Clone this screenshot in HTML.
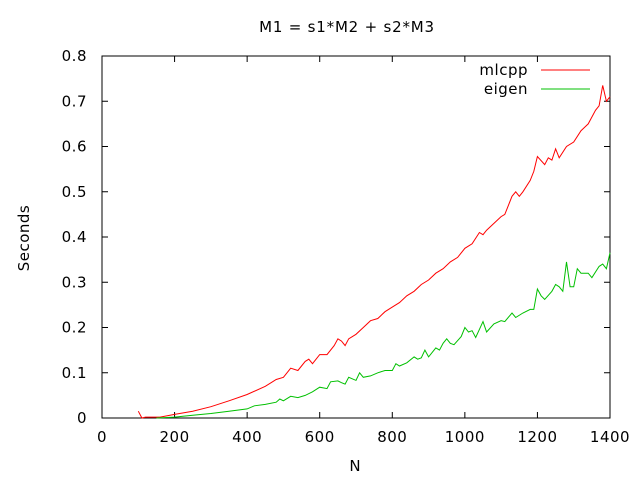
<!DOCTYPE html>
<html><head><meta charset="utf-8"><style>body{margin:0;background:#fff}svg{display:block;font-family:"DejaVu Sans","Liberation Sans",sans-serif}</style></head>
<body>
<svg id="chart" width="640" height="480" viewBox="0 0 640 480">
<text x="347" y="32" font-size="15" letter-spacing="0.8" text-anchor="middle">M1 = s1*M2 + s2*M3</text>
<text x="0" y="0" font-size="15" letter-spacing="0.5" text-anchor="middle" transform="translate(29,238) rotate(-90)">Seconds</text>
<text x="355" y="471" font-size="15" text-anchor="middle">N</text>
<g id="axes"></g>
<g id="series"></g>
<g>
<text x="528" y="75" font-size="15" letter-spacing="0.5" text-anchor="end">mlcpp</text>
<line x1="541" y1="70" x2="590" y2="70" stroke="#ff0000"/>
<text x="528" y="94" font-size="15" letter-spacing="0.5" text-anchor="end">eigen</text>
<line x1="541" y1="89" x2="590" y2="89" stroke="#00c000"/>
</g>
</svg>
<script>
const xTicks=[0,200,400,600,800,1000,1200,1400];
const yTicks=[0,0.1,0.2,0.3,0.4,0.5,0.6,0.7,0.8];
const yTickLabels=["0","0.1","0.2","0.3","0.4","0.5","0.6","0.7","0.8"];
const mlcppN=[100,110,120,160,200,250,300,350,400,450,480,500,520,540,560,570,580,600,620,640,650,660,670,680,700,720,740,760,780,800,820,840,860,880,900,920,940,960,980,1000,1020,1040,1050,1060,1080,1100,1110,1130,1140,1150,1160,1180,1190,1200,1220,1230,1240,1250,1260,1280,1300,1320,1340,1360,1370,1380,1390,1400];
const mlcppV=[0.015,0.0,0.002,0.002,0.008,0.015,0.025,0.038,0.052,0.07,0.085,0.09,0.11,0.105,0.125,0.13,0.12,0.14,0.14,0.16,0.175,0.17,0.16,0.175,0.185,0.2,0.215,0.22,0.235,0.245,0.255,0.27,0.28,0.295,0.305,0.32,0.33,0.345,0.355,0.375,0.385,0.41,0.405,0.415,0.43,0.445,0.45,0.49,0.5,0.49,0.5,0.525,0.545,0.578,0.56,0.575,0.57,0.595,0.575,0.6,0.61,0.635,0.65,0.68,0.69,0.735,0.7,0.71];
const eigenN=[150,200,250,300,350,400,420,450,480,490,500,520,540,560,580,600,620,630,650,660,670,680,700,710,720,740,760,780,800,810,820,840,860,870,880,890,900,920,930,940,950,960,970,990,1000,1010,1020,1030,1050,1060,1080,1100,1110,1130,1140,1160,1180,1190,1200,1210,1220,1240,1250,1260,1270,1280,1290,1300,1310,1320,1340,1350,1370,1380,1390,1400];
const eigenV=[0.0,0.002,0.006,0.01,0.015,0.02,0.027,0.03,0.035,0.042,0.038,0.048,0.045,0.05,0.058,0.068,0.065,0.08,0.082,0.078,0.075,0.09,0.083,0.1,0.09,0.093,0.1,0.105,0.105,0.12,0.115,0.122,0.135,0.13,0.133,0.15,0.135,0.155,0.15,0.165,0.175,0.165,0.162,0.18,0.2,0.19,0.193,0.178,0.213,0.19,0.208,0.215,0.213,0.232,0.222,0.232,0.24,0.24,0.285,0.27,0.262,0.28,0.295,0.29,0.28,0.345,0.29,0.29,0.33,0.32,0.32,0.31,0.335,0.34,0.33,0.365];
const X0=102,X1=610,Y0=418,Y1=56;
const xs=v=>X0+(v-0)/(1400-0)*(X1-X0);
const ys=v=>Y0-(v-0)/(0.8-0)*(Y0-Y1);
const NS="http://www.w3.org/2000/svg";
const axes=document.getElementById('axes'),series=document.getElementById('series');
function mk(tag,attrs,parent){const e=document.createElementNS(NS,tag);for(const k in attrs)e.setAttribute(k,attrs[k]);parent.appendChild(e);return e;}
const frame=mk('rect',{x:X0,y:Y1,width:X1-X0,height:Y0-Y1,fill:'none',stroke:'#000'},axes);


xTicks.forEach(t=>{const x=xs(t);
 const a=mk('path',{d:`M${x},${Y0}v-6M${x},${Y1}v6`,stroke:'#000'},axes);
 
 
 const l=mk('text',{x:x,y:442,'font-size':15,'letter-spacing':0.5,'text-anchor':'middle'},axes);l.textContent=t;
 
 });
yTicks.forEach((t,i)=>{const y=ys(t);
 const a=mk('path',{d:`M${X0},${y}h6M${X1},${y}h-6`,stroke:'#000'},axes);
 
 
 const l=mk('text',{x:87,y:y+5,'font-size':15,'letter-spacing':0.5,'text-anchor':'end'},axes);l.textContent=yTickLabels[i];
 
 });
function line(N,V,color,name){const d=N.map((n,i)=>(i?'L':'M')+xs(n).toFixed(1)+','+ys(V[i]).toFixed(1)).join('');
 const p=mk('path',{d:d,fill:'none',stroke:color,'stroke-width':1},series);
 
 }
line(mlcppN,mlcppV,'#ff0000','line-mlcpp');
line(eigenN,eigenV,'#00c000','line-eigen');
</script>
</body></html>
